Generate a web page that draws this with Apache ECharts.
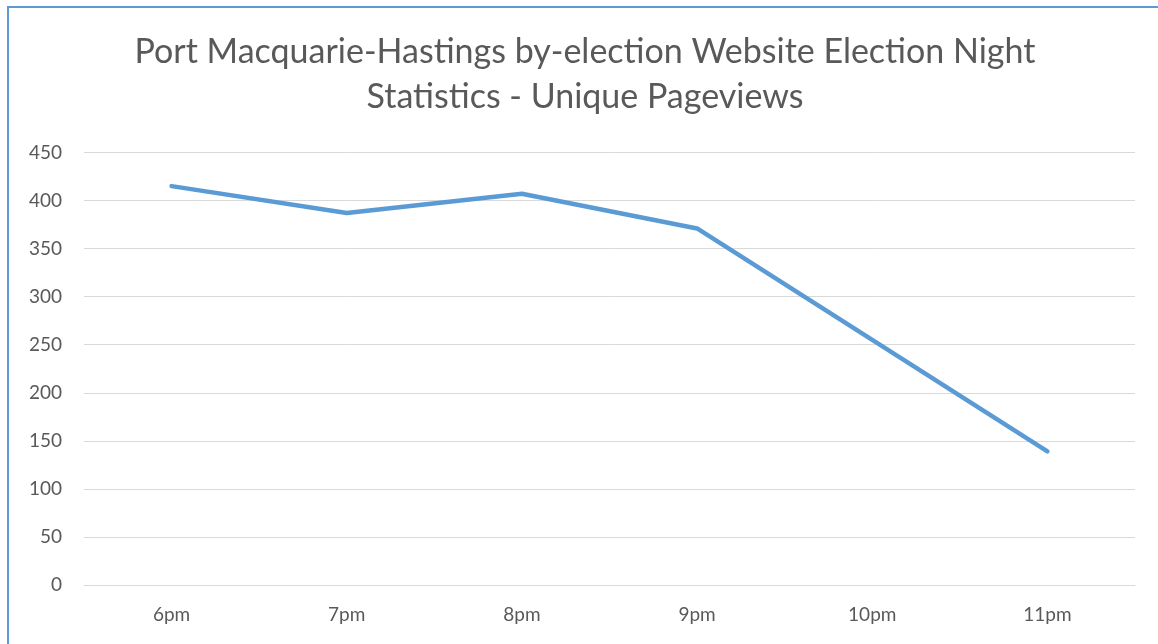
<!DOCTYPE html>
<html>
<head>
<meta charset="utf-8">
<script src="https://cdn.jsdelivr.net/npm/echarts@6/dist/echarts.min.js"></script>
<style>
html,body{margin:0;padding:0;background:#fff;}
#frame{position:absolute;left:7px;top:6px;width:1160px;height:650px;border-left:2px solid #5b9bd5;border-top:2px solid #5b9bd5;box-sizing:border-box;}
#chart{position:absolute;left:0;top:0;width:1158px;height:644px;}
</style>
</head>
<body>
<div id="frame"></div>
<div id="chart"></div>
<script>
const titleLines = ["Port Macquarie-Hastings by-election Website Election Night", "Statistics - Unique Pageviews"];
const categories = ["6pm", "7pm", "8pm", "9pm", "10pm", "11pm"];
const pageviews = [415, 387, 407, 371, 255, 139];
const yTicks = [0, 50, 100, 150, 200, 250, 300, 350, 400, 450];

const chart = echarts.init(document.getElementById('chart'));
chart.setOption({
  animation: false,
  title: {
    text: titleLines.join('\n'),
    left: 585,
    top: 30,
    padding: 0,
    textAlign: 'center',
    textStyle: {fontFamily: 'Lato', fontSize: 34, fontWeight: 'normal', color: '#595959', lineHeight: 45}
  },
  grid: {left: 84, right: 23, top: 152.5, bottom: 59, containLabel: false},
  xAxis: {
    type: 'category',
    data: categories,
    boundaryGap: true,
    axisLine: {show: true, lineStyle: {color: '#d9d9d9', width: 1}},
    axisTick: {show: false},
    axisLabel: {fontFamily: 'Lato', fontSize: 19, color: '#595959', margin: 20}
  },
  yAxis: {
    type: 'value',
    min: yTicks[0],
    max: yTicks[yTicks.length - 1],
    interval: 50,
    axisLine: {show: false},
    axisTick: {show: false},
    splitLine: {lineStyle: {color: '#d9d9d9', width: 1}},
    axisLabel: {fontFamily: 'Lato', fontSize: 19, color: '#595959', margin: 22}
  },
  series: [{
    type: 'line',
    data: pageviews,
    showSymbol: false,
    symbol: 'none',
    lineStyle: {color: '#5b9bd5', width: 4.5, cap: 'round', join: 'round'}
  }]
});
</script>
</body>
</html>
